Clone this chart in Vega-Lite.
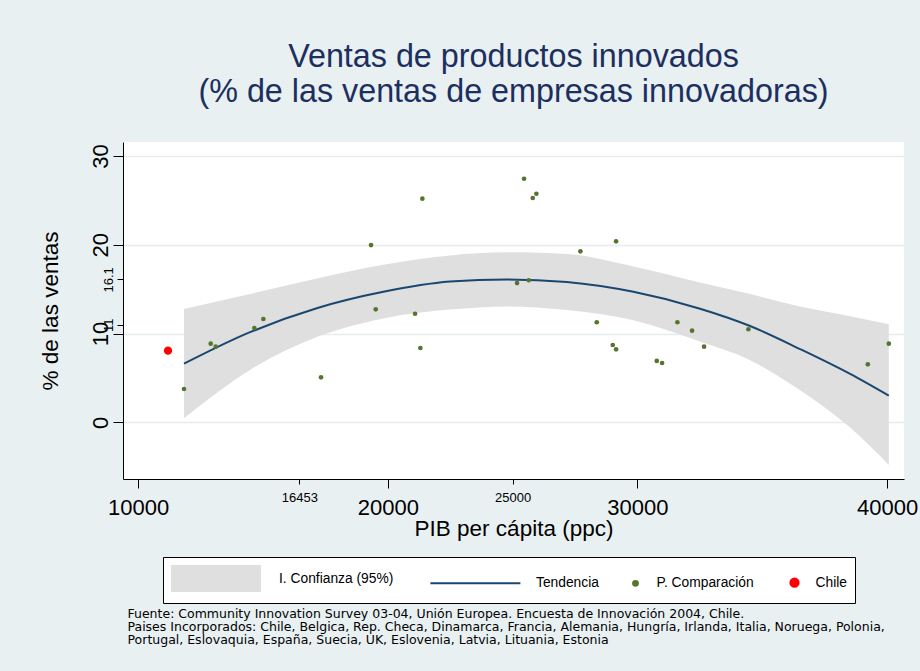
{
  "$schema": "https://vega.github.io/schema/vega-lite/v6.json",
  "width": 781,
  "height": 337,
  "autosize": {"type": "none"},
  "padding": {"left": 123, "top": 142, "right": 16, "bottom": 192},
  "background": "#E9F0F2",
  "config": {
    "view": {"stroke": null, "fill": "white"},
    "font": "Liberation Sans",
    "legend": {
      "orient": "none",
      "legendX": 40,
      "legendY": 415,
      "direction": "horizontal",
      "columns": 4,
      "title": null,
      "padding": 8,
      "fillColor": "white",
      "strokeColor": "black",
      "symbolSize": 625,
      "labelFont": "Liberation Sans",
      "labelFontSize": 13.8,
      "labelColor": "black",
      "labelOffset": 7.5,
      "labelLimit": 300,
      "columnPadding": 23
    }
  },
  "title": {
    "text": ["Ventas de productos innovados", "(% de las ventas de empresas innovadoras)"],
    "font": "Liberation Sans",
    "fontSize": 32.3,
    "fontWeight": "normal",
    "color": "#1c2f5e",
    "lineHeight": 34.3,
    "anchor": "middle",
    "frame": "group",
    "offset": 34
  },
  "datasets": {
    "ajuste": [
      {"pib": 11835, "fit": 6.6, "lo": 0.45, "hi": 12.75},
      {"pib": 14479, "fit": 10.15, "lo": 5.9, "hi": 14.45},
      {"pib": 17151, "fit": 12.85, "lo": 9.6, "hi": 16.2},
      {"pib": 19820, "fit": 14.7, "lo": 11.7, "hi": 17.75},
      {"pib": 22492, "fit": 15.85, "lo": 12.7, "hi": 18.8},
      {"pib": 24764, "fit": 16.1, "lo": 13.05, "hi": 19.15},
      {"pib": 27167, "fit": 15.8, "lo": 12.65, "hi": 18.95},
      {"pib": 29837, "fit": 14.7, "lo": 11.5, "hi": 17.55},
      {"pib": 32508, "fit": 12.8, "lo": 9.1, "hi": 15.75},
      {"pib": 34511, "fit": 10.85, "lo": 7.0, "hi": 14.45},
      {"pib": 36514, "fit": 8.25, "lo": 3.6, "hi": 13.05},
      {"pib": 38518, "fit": 5.45, "lo": -0.6, "hi": 11.95},
      {"pib": 40068, "fit": 3.0, "lo": -4.8, "hi": 11.05}
    ],
    "comparacion": [
      {"pib": 11835, "ventas": 3.75, "grupo": "P. Comparación"},
      {"pib": 12905, "ventas": 8.86, "grupo": "P. Comparación"},
      {"pib": 13105, "ventas": 8.52, "grupo": "P. Comparación"},
      {"pib": 14652, "ventas": 10.62, "grupo": "P. Comparación"},
      {"pib": 15013, "ventas": 11.64, "grupo": "P. Comparación"},
      {"pib": 17324, "ventas": 5.07, "grupo": "P. Comparación"},
      {"pib": 19327, "ventas": 19.97, "grupo": "P. Comparación"},
      {"pib": 19515, "ventas": 12.73, "grupo": "P. Comparación"},
      {"pib": 21090, "ventas": 12.23, "grupo": "P. Comparación"},
      {"pib": 21303, "ventas": 8.37, "grupo": "P. Comparación"},
      {"pib": 21383, "ventas": 25.19, "grupo": "P. Comparación"},
      {"pib": 25176, "ventas": 15.69, "grupo": "P. Comparación"},
      {"pib": 25457, "ventas": 27.44, "grupo": "P. Comparación"},
      {"pib": 25645, "ventas": 16.0, "grupo": "P. Comparación"},
      {"pib": 25805, "ventas": 25.27, "grupo": "P. Comparación"},
      {"pib": 25950, "ventas": 25.75, "grupo": "P. Comparación"},
      {"pib": 27713, "ventas": 19.26, "grupo": "P. Comparación"},
      {"pib": 28369, "ventas": 11.27, "grupo": "P. Comparación"},
      {"pib": 29010, "ventas": 8.71, "grupo": "P. Comparación"},
      {"pib": 29143, "ventas": 8.22, "grupo": "P. Comparación"},
      {"pib": 29143, "ventas": 20.39, "grupo": "P. Comparación"},
      {"pib": 30773, "ventas": 6.91, "grupo": "P. Comparación"},
      {"pib": 30986, "ventas": 6.68, "grupo": "P. Comparación"},
      {"pib": 31599, "ventas": 11.27, "grupo": "P. Comparación"},
      {"pib": 32187, "ventas": 10.32, "grupo": "P. Comparación"},
      {"pib": 32668, "ventas": 8.52, "grupo": "P. Comparación"},
      {"pib": 34443, "ventas": 10.48, "grupo": "P. Comparación"},
      {"pib": 39227, "ventas": 6.53, "grupo": "P. Comparación"},
      {"pib": 40068, "ventas": 8.86, "grupo": "P. Comparación"}
    ],
    "chile": [
      {"pib": 11194, "ventas": 8.07, "grupo": "Chile"}
    ]
  },
  "layer": [
    {
      "data": {"name": "ajuste"},
      "mark": {"type": "area", "interpolate": "monotone", "opacity": 1},
      "encoding": {
        "x": {
          "field": "pib", "type": "quantitative",
          "scale": {"domain": [9391, 40677], "nice": false, "zero": false},
          "axis": {
            "values": [10000, 16453, 20000, 25000, 30000, 40000],
            "format": "d",
            "grid": false,
            "title": "PIB per cápita (ppc)",
            "titleFont": "Liberation Sans",
            "titleFontSize": 22.5,
            "titleFontWeight": "normal",
            "titleColor": "black",
            "titleY": 38,
            "labelFont": "Liberation Sans",
            "labelColor": "black",
            "labelFontSize": {"condition": {"test": "datum.value == 16453 || datum.value == 25000", "value": 13}, "value": 22},
            "tickSize": {"condition": {"test": "datum.value == 16453 || datum.value == 25000", "value": 5}, "value": 9},
            "labelPadding": {"condition": {"test": "datum.value == 16453 || datum.value == 25000", "value": 7}, "value": 9.4},
            "labelFlush": false,
            "labelOverlap": false,
            "labelBound": false,
            "domainColor": "black",
            "tickColor": "black"
          }
        },
        "y": {
          "field": "lo", "type": "quantitative", "title": "% de las ventas",
          "scale": {"domain": [-6.39, 31.58], "nice": false, "zero": false},
          "axis": {
            "values": [0, 10, 20, 30, 16.1, 11],
            "format": ".4~g",
            "labelAngle": 270,
            "labelAlign": "center",
            "labelBaseline": "bottom",
            "labelFont": "Liberation Sans",
            "labelColor": "black",
            "labelFontSize": {"condition": {"test": "datum.value == 16.1 || datum.value == 11", "value": 13}, "value": 22},
            "tickSize": {"condition": {"test": "datum.value == 16.1 || datum.value == 11", "value": 6}, "value": 10},
            "labelPadding": {"condition": {"test": "datum.value == 16.1 || datum.value == 11", "value": 2}, "value": 1},
            "gridOpacity": {"condition": {"test": "datum.value == 16.1 || datum.value == 11", "value": 0}, "value": 1},
            "gridColor": "#E4ECEF",
            "gridWidth": 1.5,
            "labelOverlap": false,
            "labelFlush": false,
            "domainColor": "black",
            "tickColor": "black",
            "titleFont": "Liberation Sans",
            "titleFontSize": 22.5,
            "titleFontWeight": "normal",
            "titleColor": "black",
            "titleX": -61
          }
        },
        "y2": {"field": "hi"},
        "color": {
          "datum": "I. Confianza (95%)",
          "type": "nominal",
          "scale": {
            "domain": ["I. Confianza (95%)", "Tendencia", "P. Comparación", "Chile"],
            "range": ["#DFDFDF", "#1A476F", "#55752F", "#FF0000"]
          },
          "legend": {
            "title": null,
            "encode": {
              "symbols": {
                "update": {
                  "shape": {"signal": "datum.value === 'I. Confianza (95%)' ? 'M-1,-1H6.04V1H-1Z' : datum.value === 'Tendencia' ? 'M-0.01,0H7.19' : datum.value === 'Chile' ? 'M-0.03,0A1,1,0,1,1,1.97,0A1,1,0,1,1,-0.03,0Z' : 'circle'"},
                  "size": {"signal": "datum.value === 'Chile' ? 68 : datum.value === 'P. Comparación' ? 24 : 625"},
                  "fill": {"signal": "datum.value === 'Tendencia' ? 'transparent' : scale('color', datum.value)"},
                  "stroke": {"signal": "datum.value === 'Tendencia' ? scale('color', datum.value) : 'transparent'"},
                  "strokeWidth": {"value": 2},
                  "opacity": {"value": 1}
                }
              },
              "labels": {
                "update": {
                  "dx": {"signal": "datum.value === 'I. Confianza (95%)' ? 73.5 : datum.value === 'Tendencia' ? 84.5 : datum.value === 'Chile' ? 4 : 0"}
                }
              }
            }
          }
        }
      }
    },
    {
      "data": {"name": "ajuste"},
      "mark": {"type": "line", "interpolate": "monotone", "strokeWidth": 2},
      "encoding": {
        "x": {"field": "pib", "type": "quantitative", "axis": null},
        "y": {"field": "fit", "type": "quantitative", "title": "% de las ventas"},
        "color": {
          "datum": "Tendencia", "type": "nominal",
          "legend": {
            "title": null,
            "encode": {
              "symbols": {
                "update": {
                  "shape": {"signal": "datum.value === 'I. Confianza (95%)' ? 'M-1,-1H6.04V1H-1Z' : datum.value === 'Tendencia' ? 'M-0.01,0H7.19' : datum.value === 'Chile' ? 'M-0.03,0A1,1,0,1,1,1.97,0A1,1,0,1,1,-0.03,0Z' : 'circle'"},
                  "size": {"signal": "datum.value === 'Chile' ? 68 : datum.value === 'P. Comparación' ? 24 : 625"},
                  "fill": {"signal": "datum.value === 'Tendencia' ? 'transparent' : scale('color', datum.value)"},
                  "stroke": {"signal": "datum.value === 'Tendencia' ? scale('color', datum.value) : 'transparent'"},
                  "strokeWidth": {"value": 2},
                  "opacity": {"value": 1}
                }
              },
              "labels": {
                "update": {
                  "dx": {"signal": "datum.value === 'I. Confianza (95%)' ? 73.5 : datum.value === 'Tendencia' ? 84.5 : datum.value === 'Chile' ? 4 : 0"}
                }
              }
            }
          }
        }
      }
    },
    {
      "data": {"name": "comparacion"},
      "mark": {"type": "point", "filled": true, "opacity": 1, "size": 22, "shape": "circle"},
      "encoding": {
        "x": {"field": "pib", "type": "quantitative", "axis": null},
        "y": {"field": "ventas", "type": "quantitative", "title": "% de las ventas"},
        "color": {
          "field": "grupo", "type": "nominal",
          "legend": {
            "title": null,
            "encode": {
              "symbols": {
                "update": {
                  "shape": {"signal": "datum.value === 'I. Confianza (95%)' ? 'M-1,-1H6.04V1H-1Z' : datum.value === 'Tendencia' ? 'M-0.01,0H7.19' : datum.value === 'Chile' ? 'M-0.03,0A1,1,0,1,1,1.97,0A1,1,0,1,1,-0.03,0Z' : 'circle'"},
                  "size": {"signal": "datum.value === 'Chile' ? 68 : datum.value === 'P. Comparación' ? 24 : 625"},
                  "fill": {"signal": "datum.value === 'Tendencia' ? 'transparent' : scale('color', datum.value)"},
                  "stroke": {"signal": "datum.value === 'Tendencia' ? scale('color', datum.value) : 'transparent'"},
                  "strokeWidth": {"value": 2},
                  "opacity": {"value": 1}
                }
              },
              "labels": {
                "update": {
                  "dx": {"signal": "datum.value === 'I. Confianza (95%)' ? 73.5 : datum.value === 'Tendencia' ? 84.5 : datum.value === 'Chile' ? 4 : 0"}
                }
              }
            }
          }
        }
      }
    },
    {
      "data": {"name": "chile"},
      "mark": {"type": "point", "filled": true, "opacity": 1, "size": 68, "shape": "circle"},
      "encoding": {
        "x": {
          "field": "pib", "type": "quantitative",
          "axis": {
            "orient": "bottom",
            "labels": false,
            "ticks": false,
            "domain": false,
            "grid": false,
            "title": [
              "Fuente: Community Innovation Survey 03-04, Unión Europea. Encuesta de Innovación 2004, Chile.",
              "Paises Incorporados: Chile, Belgica, Rep. Checa, Dinamarca, Francia, Alemania, Hungría, Irlanda, Italia, Noruega, Polonia,",
              "Portugal, Eslovaquia, España, Suecia, UK, Eslovenia, Latvia, Lituania, Estonia"
            ],
            "titleFont": "DejaVu Sans",
            "titleFontSize": 12.5,
            "titleFontWeight": "normal",
            "titleColor": "black",
            "titleAnchor": "start",
            "titleAlign": "left",
            "titleBaseline": "top",
            "titleLineHeight": 13.4,
            "titleX": 4,
            "titleY": 128
          }
        },
        "y": {"field": "ventas", "type": "quantitative", "title": "% de las ventas"},
        "color": {
          "field": "grupo", "type": "nominal",
          "legend": {
            "title": null,
            "encode": {
              "symbols": {
                "update": {
                  "shape": {"signal": "datum.value === 'I. Confianza (95%)' ? 'M-1,-1H6.04V1H-1Z' : datum.value === 'Tendencia' ? 'M-0.01,0H7.19' : datum.value === 'Chile' ? 'M-0.03,0A1,1,0,1,1,1.97,0A1,1,0,1,1,-0.03,0Z' : 'circle'"},
                  "size": {"signal": "datum.value === 'Chile' ? 68 : datum.value === 'P. Comparación' ? 24 : 625"},
                  "fill": {"signal": "datum.value === 'Tendencia' ? 'transparent' : scale('color', datum.value)"},
                  "stroke": {"signal": "datum.value === 'Tendencia' ? scale('color', datum.value) : 'transparent'"},
                  "strokeWidth": {"value": 2},
                  "opacity": {"value": 1}
                }
              },
              "labels": {
                "update": {
                  "dx": {"signal": "datum.value === 'I. Confianza (95%)' ? 73.5 : datum.value === 'Tendencia' ? 84.5 : datum.value === 'Chile' ? 4 : 0"}
                }
              }
            }
          }
        }
      }
    }
  ],
  "resolve": {"axis": {"x": "independent"}}
}
